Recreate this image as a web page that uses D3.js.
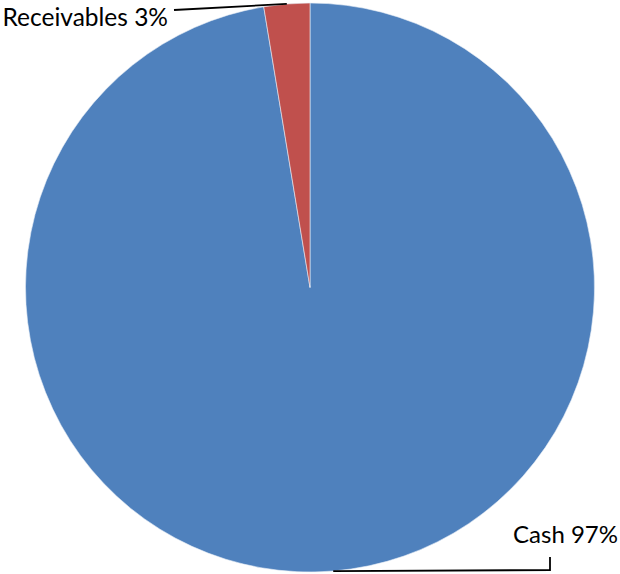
<!DOCTYPE html>
<html>
<head>
<meta charset="utf-8">
<script src="https://cdn.jsdelivr.net/npm/d3@7"></script>
<style>
  body { margin: 0; background: #fff; }
  svg { display: block; }
</style>
</head>
<body>
<svg id="chart" width="620" height="574"></svg>
<script>
// data
let categories = ["Cash", "Receivables"]
let values = [97.4, 2.6]
let labels = ["Cash 97%", "Receivables 3%"]
let colors = ["#4F81BD", "#C0504D"]

let svg = d3.select("#chart")
let cx = 310, cy = 287.5, r = 284.5

let g = svg.append("g").attr("transform", `translate(${cx},${cy})`)

let pie = d3.pie().sort(null).value(d => d)
let arcs = pie(values)
let arc = d3.arc().innerRadius(0).outerRadius(r)

g.selectAll("path")
  .data(arcs)
  .join("path")
  .attr("d", arc)
  .attr("fill", (d, i) => colors[i])
  .attr("stroke", "#e8eef6")
  .attr("stroke-width", 0.6)

// point on the rim at the middle of a slice
function rimPoint(d) {
  let a = (d.startAngle + d.endAngle) / 2
  return [Math.sin(a) * r, -Math.cos(a) * r]
}

// leader lines
let pc = rimPoint(arcs[0])
g.append("path")
  .attr("d", d3.line()([pc, [550 - cx, pc[1] - 1], [550 - cx, 557 - cy]]))
  .attr("fill", "none")
  .attr("stroke", "#000")
  .attr("stroke-width", 1.8)

let pr = rimPoint(arcs[1])
g.append("path")
  .attr("d", d3.line()([pr, [174 - cx, 10 - cy]]))
  .attr("fill", "none")
  .attr("stroke", "#000")
  .attr("stroke-width", 1.8)

// labels
svg.append("text")
  .attr("x", 618).attr("y", 543)
  .attr("text-anchor", "end")
  .attr("font-family", "Lato, 'Open Sans', sans-serif")
  .attr("font-size", 24)
  .attr("fill", "#000")
  .text(labels[0])

svg.append("text")
  .attr("x", 168).attr("y", 26)
  .attr("text-anchor", "end")
  .attr("font-family", "Lato, 'Open Sans', sans-serif")
  .attr("font-size", 24.5)
  .attr("fill", "#000")
  .text(labels[1])
</script>
</body>
</html>
